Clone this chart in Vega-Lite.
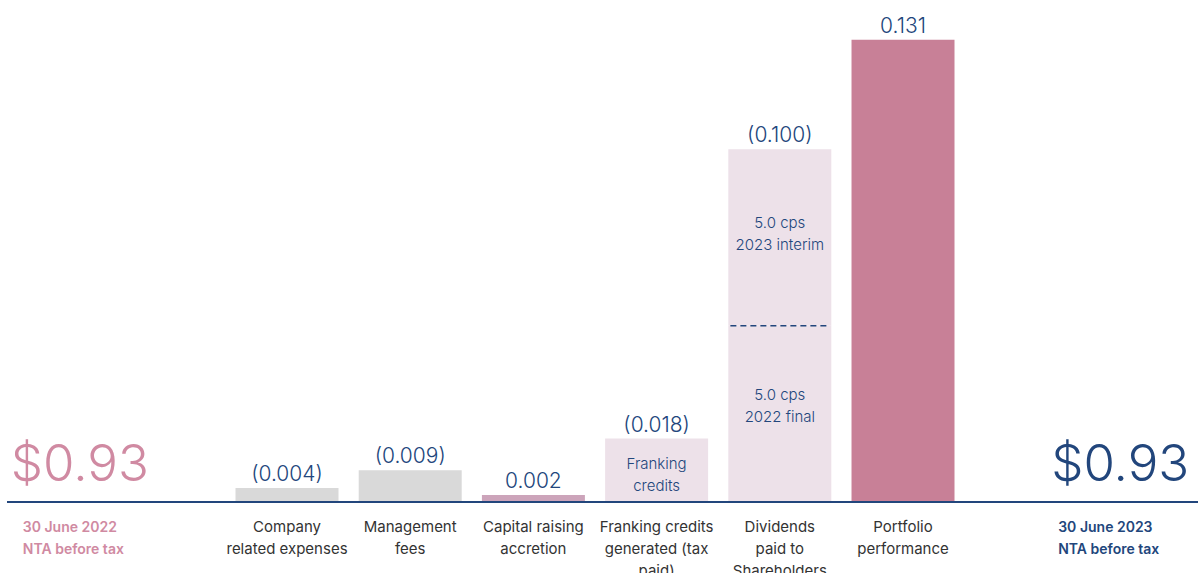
{
  "$schema": "https://vega.github.io/schema/vega-lite/v6.json",
  "width": 1191,
  "height": 573,
  "autosize": "none",
  "padding": {"left": 7, "right": 0, "top": 0, "bottom": 0},
  "background": "white",
  "config": {"view": {"stroke": null}, "text": {"font": "Inter"}},
  "datasets": {
    "bars": [
      {"cat": "Company", "lo": 0, "hi": 0.004, "kind": "cost"},
      {"cat": "Management", "lo": 0, "hi": 0.009, "kind": "cost"},
      {"cat": "Capital", "lo": 0, "hi": 0.002, "kind": "accretion"},
      {"cat": "Franking", "lo": 0, "hi": 0.018, "kind": "tax"},
      {"cat": "Dividends", "lo": 0, "hi": 0.05, "kind": "tax"},
      {"cat": "Dividends", "lo": 0.05, "hi": 0.1, "kind": "tax"},
      {"cat": "Portfolio", "lo": 0, "hi": 0.131, "kind": "performance"}
    ],
    "tops": [
      {"cat": "Company", "top": 0.004, "label": "(0.004)"},
      {"cat": "Management", "top": 0.009, "label": "(0.009)"},
      {"cat": "Capital", "top": 0.002, "label": "0.002"},
      {"cat": "Franking", "top": 0.018, "label": "(0.018)"},
      {"cat": "Dividends", "top": 0.1, "label": "(0.100)"},
      {"cat": "Portfolio", "top": 0.131, "label": "0.131"}
    ],
    "inner": [
      {"cat": "Franking", "mid": 0.0077, "text": "Franking|credits"},
      {"cat": "Dividends", "mid": 0.076, "text": "5.0 cps|2023 interim"},
      {"cat": "Dividends", "mid": 0.0272, "text": "5.0 cps|2022 final"}
    ],
    "cats": [
      {"cat": "Company", "text": "Company|related expenses"},
      {"cat": "Management", "text": "Management|fees"},
      {"cat": "Capital", "text": "Capital raising|accretion"},
      {"cat": "Franking", "text": "Franking credits|generated (tax|paid)"},
      {"cat": "Dividends", "text": "Dividends|paid to|Shareholders"},
      {"cat": "Portfolio", "text": "Portfolio|performance"}
    ],
    "ends": [
      {"cat": "Start", "nta": "$0.93", "text": "30 June 2022|NTA before tax"},
      {"cat": "End", "nta": "$0.93", "text": "30 June 2023|NTA before tax"}
    ],
    "divider": [{"cat": "Dividends", "at": 0.05}]
  },
  "layer": [
    {
      "data": {"name": "bars"},
      "mark": {"type": "bar"},
      "encoding": {
        "x": {
          "field": "cat", "type": "nominal", "axis": null,
          "scale": {
            "domain": ["Start", "Company", "Management", "Capital", "Franking", "Dividends", "Portfolio", "End"],
            "paddingInner": 0.164, "paddingOuter": 0.9156, "align": 0.4668
          }
        },
        "y": {"field": "lo", "type": "quantitative", "axis": null,
              "scale": {"domain": [-0.0201, 0.1423], "nice": false, "zero": false}},
        "y2": {"field": "hi"},
        "color": {"field": "kind", "type": "nominal", "legend": null,
                  "scale": {"domain": ["cost", "accretion", "tax", "performance"],
                            "range": ["#d9d9d9", "#cca4ba", "#ede1e9", "#c88097"]}}
      }
    },
    {
      "data": {"name": "divider"},
      "mark": {"type": "rule", "color": "#22467c", "strokeWidth": 1.5, "strokeDash": [6, 4]},
      "encoding": {
        "x": {"field": "cat", "type": "nominal", "bandPosition": 0.02, "axis": null},
        "x2": {"field": "cat", "bandPosition": 0.98},
        "y": {"field": "at", "type": "quantitative"}
      }
    },
    {
      "data": {"values": [{}]},
      "mark": {"type": "rule", "color": "#22467c", "strokeWidth": 2},
      "encoding": {"y": {"datum": 0, "type": "quantitative"}}
    },
    {
      "data": {"name": "tops"},
      "mark": {"type": "text", "baseline": "alphabetic", "dy": -7, "fontSize": 21, "fontWeight": 300, "color": "#22467c"},
      "encoding": {
        "x": {"field": "cat", "type": "nominal", "axis": null},
        "y": {"field": "top", "type": "quantitative"},
        "text": {"field": "label"}
      }
    },
    {
      "data": {"name": "inner"},
      "mark": {"type": "text", "baseline": "middle", "dy": -11, "lineBreak": "|", "lineHeight": 22, "fontSize": 15, "fontWeight": 300, "color": "#22467c"},
      "encoding": {
        "x": {"field": "cat", "type": "nominal", "axis": null},
        "y": {"field": "mid", "type": "quantitative"},
        "text": {"field": "text"}
      }
    },
    {
      "data": {"name": "cats"},
      "mark": {"type": "text", "baseline": "top", "dy": 18, "lineBreak": "|", "lineHeight": 22, "fontSize": 15, "color": "#333333"},
      "encoding": {
        "x": {"field": "cat", "type": "nominal", "axis": null},
        "y": {"datum": 0, "type": "quantitative"},
        "text": {"field": "text"}
      }
    },
    {
      "data": {"name": "ends"},
      "transform": [{"filter": "datum.cat === 'Start'"}],
      "mark": {"type": "text", "baseline": "alphabetic", "dy": -21, "dx": -84, "fontSize": 51, "fontWeight": 300, "color": "#d08aa2"},
      "encoding": {
        "x": {"field": "cat", "type": "nominal", "axis": null},
        "y": {"datum": 0, "type": "quantitative"},
        "text": {"field": "nta"}
      }
    },
    {
      "data": {"name": "ends"},
      "transform": [{"filter": "datum.cat === 'End'"}],
      "mark": {"type": "text", "baseline": "alphabetic", "dy": -21, "dx": 94, "fontSize": 51, "fontWeight": 300, "color": "#22467c"},
      "encoding": {
        "x": {"field": "cat", "type": "nominal", "axis": null},
        "y": {"datum": 0, "type": "quantitative"},
        "text": {"field": "nta"}
      }
    },
    {
      "data": {"name": "ends"},
      "transform": [{"filter": "datum.cat === 'Start'"}],
      "mark": {"type": "text", "align": "left", "baseline": "top", "dy": 19, "dx": -141, "lineBreak": "|", "lineHeight": 22, "fontSize": 14, "fontWeight": 600, "color": "#d08aa2"},
      "encoding": {
        "x": {"field": "cat", "type": "nominal", "axis": null},
        "y": {"datum": 0, "type": "quantitative"},
        "text": {"field": "text"}
      }
    },
    {
      "data": {"name": "ends"},
      "transform": [{"filter": "datum.cat === 'End'"}],
      "mark": {"type": "text", "align": "left", "baseline": "top", "dy": 19, "dx": 32, "lineBreak": "|", "lineHeight": 22, "fontSize": 14, "fontWeight": 600, "color": "#22467c"},
      "encoding": {
        "x": {"field": "cat", "type": "nominal", "axis": null},
        "y": {"datum": 0, "type": "quantitative"},
        "text": {"field": "text"}
      }
    }
  ]
}
